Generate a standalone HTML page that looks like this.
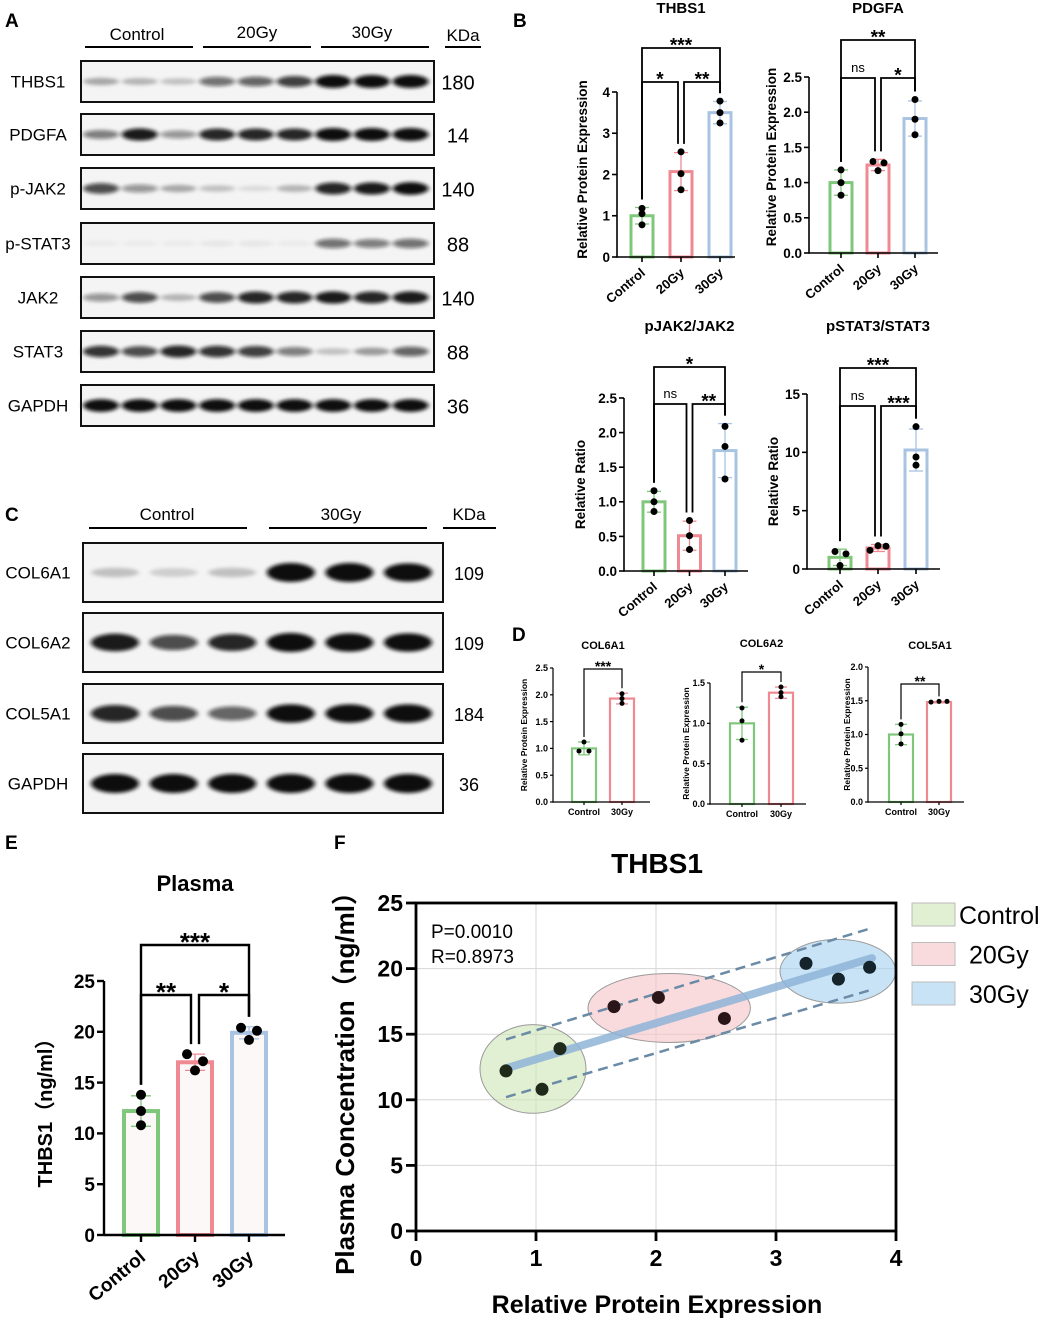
<!DOCTYPE html>
<html><head><meta charset="utf-8">
<style>
html,body{margin:0;padding:0;background:#fff;}
svg{display:block;font-family:"Liberation Sans",Arial,sans-serif;}
</style></head>
<body>
<svg id="fig" width="1045" height="1320" viewBox="0 0 1045 1320" xmlns="http://www.w3.org/2000/svg">
<defs>
<filter id="blur" x="-30%" y="-100%" width="160%" height="300%"><feGaussianBlur stdDeviation="2.5 1.8"/></filter>
</defs>
<g id="root"></g>
</svg>
<script>
// ---------- DATA ----------
const groups3 = ["Control","20Gy","30Gy"];
const groups2 = ["Control","30Gy"];
const thbs1Means = [1.0,2.07,3.5];
const thbs1Pts = [[1.18,1.05,0.78],[2.55,2.02,1.63],[3.78,3.5,3.25]];
const thbs1Sd = [0.2,0.46,0.27];
const pdgfaMeans = [1.0,1.25,1.91];
const pdgfaPts = [[1.18,1.0,0.82],[1.3,1.28,1.17],[2.18,1.9,1.68]];
const pdgfaSd = [0.18,0.08,0.25];
const pjakMeans = [1.0,0.51,1.74];
const pjakPts = [[1.16,1.0,0.86],[0.73,0.51,0.31],[2.09,1.8,1.33]];
const pjakSd = [0.15,0.21,0.39];
const pstatMeans = [1.0,1.8,10.2];
const pstatPts = [[1.5,1.3,0.3],[1.6,2.0,1.95],[12.2,9.6,8.9]];
const pstatSd = [0.7,0.3,1.8];
const col6a1Means = [1.0,1.93];
const col6a1Pts = [[1.12,0.95,0.95],[2.02,1.93,1.84]];
const col6a1Sd = [0.12,0.1];
const col6a2Means = [1.0,1.38];
const col6a2Pts = [[1.19,1.03,0.79],[1.45,1.38,1.33]];
const col6a2Sd = [0.2,0.07];
const col5a1Means = [1.0,1.48];
const col5a1Pts = [[1.15,1.01,0.86],[1.48,1.49,1.49]];
const col5a1Sd = [0.15,0.01];
const plasmaMeans = [12.2,17.0,19.9];
const plasmaPts = [[13.8,12.2,10.8],[17.8,17.1,16.2],[20.4,19.2,20.1]];
const plasmaSd = [1.5,0.8,0.6];
const ticks4 = [0,1,2,3,4];
const ticks25 = [0,0.5,1.0,1.5,2.0,2.5];
const ticks15 = [0,5,10,15];
const ticks1p5 = [0,0.5,1.0,1.5];
const ticks2 = [0,0.5,1.0,1.5,2.0];
const ticksPlasma = [0,5,10,15,20,25];
// scatter F
const scatterX = [0.75,1.05,1.2,1.65,2.02,2.57,3.25,3.52,3.78];
const scatterY = [12.2,10.8,13.9,17.1,17.8,16.2,20.4,19.2,20.1];
const scatterGroup = [0,0,0,1,1,1,2,2,2];
const fitEnds = [0.75,3.8];
const fitY = [12.4,20.8];
const ciUpperY = [14.6,23.1];
const ciLowerY = [10.2,18.4];
const fXTicks = [0,1,2,3,4];
const fYTicks = [0,5,10,15,20,25];
const fLegend = ["Control","20Gy","30Gy"];
// blots
const blotARows = ["THBS1","PDGFA","p-JAK2","p-STAT3","JAK2","STAT3","GAPDH"];
const blotAKda = ["180","14","140","88","140","88","36"];
const blotAInt = [
 [0.3,0.25,0.2,0.55,0.6,0.75,1,1,1],
 [0.5,0.9,0.4,0.85,0.85,0.85,1,1,1],
 [0.7,0.4,0.3,0.2,0.1,0.25,0.85,0.9,0.95],
 [0.04,0.04,0.04,0.06,0.06,0.04,0.55,0.5,0.55],
 [0.4,0.7,0.25,0.7,0.85,0.85,0.9,0.85,0.9],
 [0.8,0.7,0.85,0.8,0.75,0.5,0.2,0.35,0.6],
 [0.95,0.95,0.95,0.95,0.95,0.95,0.95,0.95,0.95]];
const blotCRows = ["COL6A1","COL6A2","COL5A1","GAPDH"];
const blotCKda = ["109","109","184","36"];
const blotCInt = [
 [0.2,0.15,0.2,1,1,0.95],
 [0.9,0.7,0.85,1,0.95,0.95],
 [0.85,0.7,0.6,0.95,0.95,0.95],
 [1,1,1,1,1,1]];

// ---------- HELPERS ----------
const NS="http://www.w3.org/2000/svg";
const root=document.getElementById('root');
function el(tag,attrs,parent,text){const e=document.createElementNS(NS,tag);for(const k in attrs)e.setAttribute(k,attrs[k]);if(text!==undefined)e.textContent=text;(parent||root).appendChild(e);return e;}
function txt(x,y,s,size,opts,parent){opts=opts||{};const t=el('text',{x:x,y:y,'font-size':size,'font-weight':opts.bold?'bold':'normal','text-anchor':opts.anchor||'middle',fill:opts.fill||'#000'},parent,s);if(opts.rot!==undefined)t.setAttribute('transform','rotate('+opts.rot+' '+x+' '+y+')');if(opts.family)t.setAttribute('font-family',opts.family);return t;}
const COLORS=["#7fc77a","#ef8a93","#a9c4e2"];

function barChart(c){
  const g=el('g',{});
  
  
  const ys=v=>c.y0-(v/c.vmax)*(c.y0-c.y1);
  const xs=i=>c.cx0+i*c.step;
  c.means.forEach((m,i)=>{
    const r=el('rect',{x:xs(i)-c.bw/2,y:ys(m),width:c.bw,height:c.y0-ys(m),fill:c.fill||'#fff',stroke:COLORS[i],'stroke-width':c.sw},g);
    
    
    const sd=c.sds[i];
    el('line',{x1:xs(i),x2:xs(i),y1:ys(m+sd),y2:ys(Math.max(0,m-sd)),stroke:COLORS[i],'stroke-width':1.3},g);
    [m+sd,Math.max(0,m-sd)].forEach(v=>el('line',{x1:xs(i)-c.cap,x2:xs(i)+c.cap,y1:ys(v),y2:ys(v),stroke:COLORS[i],'stroke-width':1.3},g));
    c.pts[i].forEach((p,j)=>{
      const d=el('circle',{cx:xs(i)+(c.jit?c.jit[i][j]:0),cy:ys(p),r:c.pr,fill:'#000'},g);
      
      
    });
  });
  el('line',{x1:c.x0,x2:c.x0,y1:c.y1,y2:c.y0+0.8,stroke:'#000','stroke-width':c.aw},g);
  el('line',{x1:c.x0,x2:c.xEnd,y1:c.y0,y2:c.y0,stroke:'#000','stroke-width':c.aw},g);
  c.ticks.forEach(t=>{
    el('line',{x1:c.x0-c.tl,x2:c.x0,y1:ys(t),y2:ys(t),stroke:'#000','stroke-width':c.aw},g);
    txt(c.x0-c.tl-2,ys(t)+c.tfs*0.36,c.fmt(t),c.tfs,{bold:true,anchor:'end'},g);
  });
  c.cats.forEach((s,i)=>{
    el('line',{x1:xs(i),x2:xs(i),y1:c.y0,y2:c.y0+c.tl,stroke:'#000','stroke-width':c.aw},g);
    if(c.rot) txt(xs(i)+c.tfs*0.3,c.y0+c.tl+c.tfs*0.9,s,c.xfs,{bold:true,anchor:'end',rot:-40},g);
    else txt(xs(i),c.y0+c.tl+c.xfs+1,s,c.xfs,{bold:true},g);
  });
  const yl=txt(c.ylx,(c.y0+c.y1)/2+c.yloff,c.ylabel,c.yfs,{bold:true,rot:-90},g);
  
  const tt=txt((xs(0)+xs(c.cats.length-1))/2+c.titleDx,c.titleY,c.title,c.titleFs,{bold:true},g);
  
  c.brackets.forEach(b=>{
    const [i,j,by,lab,oi,oj]=b;
    const xa=xs(i)+(oi||0), xb=xs(j)+(oj||0);
    const topI=ys(Math.max(...c.pts[i],c.means[i]+c.sds[i]))-c.gap;
    const topJ=ys(Math.max(...c.pts[j],c.means[j]+c.sds[j]))-c.gap;
    el('path',{d:`M${xa},${Math.max(topI,by+6)} V${by} H${xb} V${Math.max(topJ,by+6)}`,fill:'none',stroke:'#000','stroke-width':c.bkw},g);
    const isNs=lab==='ns';
    txt((xa+xb)/2,isNs?by-6:by-3+c.sfs*0.35,lab,isNs?c.nsfs:c.sfs,{bold:!isNs},g);
  });
}

// ---------- PANEL B ----------
barChart({name:'thbs1-bar-chart',cats:groups3,means:thbs1Means,pts:thbs1Pts,sds:thbs1Sd,x0:617,xEnd:735,y0:257,y1:92,vmax:4,cx0:642,step:39,bw:22,sw:3,cap:7,pr:3.5,aw:1.6,tl:5,tfs:13.5,xfs:13,fmt:t=>String(t),ticks:ticks4,rot:true,ylabel:'Relative Protein Expression',ylx:587,yloff:-5,yfs:13.5,title:'THBS1',titleY:13,titleFs:15,titleDx:0,gap:8,bkw:1.8,sfs:19,nsfs:13,
 jit:[[0,0,0],[0,0,0],[0,0,0]],
 brackets:[[0,2,48,'***'],[0,1,82,'*',0,-3],[1,2,82,'**',3,0]]});
barChart({name:'pdgfa-bar-chart',cats:groups3,means:pdgfaMeans,pts:pdgfaPts,sds:pdgfaSd,x0:809,xEnd:938,y0:253,y1:77,vmax:2.5,cx0:841,step:37,bw:22,sw:3,cap:7,pr:3.5,aw:1.6,tl:5,tfs:13.5,xfs:13,fmt:t=>t.toFixed(1),ticks:ticks25,rot:true,ylabel:'Relative Protein Expression',ylx:776,yloff:-8,yfs:13.5,title:'PDGFA',titleY:13,titleFs:15,titleDx:0,gap:8,bkw:1.8,sfs:19,nsfs:13,
 jit:[[0,0,0],[-5,6,0],[0,0,0]],
 brackets:[[0,2,40,'**'],[0,1,78,'ns',0,-3],[1,2,78,'*',3,0]]});
barChart({name:'pjak2-jak2-bar-chart',cats:groups3,means:pjakMeans,pts:pjakPts,sds:pjakSd,x0:624,xEnd:748,y0:571,y1:398,vmax:2.5,cx0:654,step:35.5,bw:22,sw:3,cap:7,pr:3.5,aw:1.6,tl:5,tfs:13.5,xfs:13,fmt:t=>t.toFixed(1),ticks:ticks25,rot:true,ylabel:'Relative Ratio',ylx:585,yloff:0,yfs:13.5,title:'pJAK2/JAK2',titleY:331,titleFs:15,titleDx:0,gap:8,bkw:1.8,sfs:19,nsfs:13,
 jit:[[0,0,0],[0,0,0],[0,0,0]],
 brackets:[[0,2,367,'*'],[0,1,404,'ns',0,-3],[1,2,404,'**',3,0]]});
barChart({name:'pstat3-stat3-bar-chart',cats:groups3,means:pstatMeans,pts:pstatPts,sds:pstatSd,x0:807,xEnd:940,y0:569,y1:394,vmax:15,cx0:840,step:38,bw:22,sw:3,cap:7,pr:3.5,aw:1.6,tl:5,tfs:13.5,xfs:13,fmt:t=>String(t),ticks:ticks15,rot:true,ylabel:'Relative Ratio',ylx:778,yloff:0,yfs:13.5,title:'pSTAT3/STAT3',titleY:331,titleFs:15,titleDx:0,gap:8,bkw:1.8,sfs:19,nsfs:13,
 jit:[[-5,6,0],[-8,0,8],[0,0,0]],
 brackets:[[0,2,368,'***'],[0,1,406,'ns',0,-3],[1,2,406,'***',3,0]]});

// ---------- PANEL D ----------
barChart({name:'col6a1-bar-chart',cats:groups2,means:col6a1Means,pts:col6a1Pts,sds:col6a1Sd,x0:553,xEnd:650,y0:802,y1:668,vmax:2.5,cx0:584,step:38,bw:24,sw:2.2,cap:6,pr:2.5,aw:1.2,tl:3,tfs:9,xfs:9,fmt:t=>t.toFixed(1),ticks:ticks25,rot:false,ylabel:'Relative Protein Expression',ylx:527,yloff:0,yfs:8.5,title:'COL6A1',titleY:649,titleFs:11,titleDx:0,gap:5,bkw:1.2,sfs:14,nsfs:10,
 jit:[[0,-5,5],[0,0,0]],
 brackets:[[0,1,669,'***']]});
barChart({name:'col6a2-bar-chart',cats:groups2,means:col6a2Means,pts:col6a2Pts,sds:col6a2Sd,x0:710,xEnd:806,y0:804,y1:683,vmax:1.5,cx0:742,step:39,bw:24,sw:2.2,cap:6,pr:2.5,aw:1.2,tl:3,tfs:9,xfs:9,fmt:t=>t.toFixed(1),ticks:ticks1p5,rot:false,ylabel:'Relative Protein Expression',ylx:689,yloff:0,yfs:8.5,title:'COL6A2',titleY:647,titleFs:11,titleDx:0,gap:5,bkw:1.2,sfs:14,nsfs:10,
 jit:[[0,0,0],[0,0,0]],
 brackets:[[0,1,672,'*']]});
barChart({name:'col5a1-bar-chart',cats:groups2,means:col5a1Means,pts:col5a1Pts,sds:col5a1Sd,x0:868,xEnd:964,y0:802,y1:667,vmax:2,cx0:901,step:38,bw:24,sw:2.2,cap:6,pr:2.5,aw:1.2,tl:3,tfs:9,xfs:9,fmt:t=>t.toFixed(1),ticks:ticks2,rot:false,ylabel:'Relative Protein Expression',ylx:850,yloff:0,yfs:8.5,title:'COL5A1',titleY:649,titleFs:11,titleDx:10,gap:5,bkw:1.2,sfs:14,nsfs:10,
 jit:[[0,0,0],[-8,0,8]],
 brackets:[[0,1,684,'**']]});

// ---------- PANEL E ----------
barChart({name:'plasma-bar-chart',cats:groups3,means:plasmaMeans,pts:plasmaPts,sds:plasmaSd,x0:104,xEnd:285,y0:1235,y1:981,vmax:25,cx0:141,step:54,bw:34,sw:4,cap:10,pr:5,aw:2.4,tl:7,tfs:19,xfs:19,fmt:t=>String(t),ticks:ticksPlasma,rot:true,ylabel:'THBS1（ng/ml）',ylx:52,yloff:0,yfs:20,title:'Plasma',titleY:891,titleFs:22,titleDx:0,gap:10,bkw:2.4,sfs:26,nsfs:18,fill:'#fdf8f8',
 jit:[[0,0,0],[-8,8,0],[-8,0,8]],
 brackets:[[0,2,945,'***'],[0,1,995,'**',0,-4],[1,2,995,'*',4,0]]});

// ---------- PANEL F ----------
(function(){
  const g=el('g',{});
  
  
  const X0=416,X1=896,Y0=1231,Y1=903;
  const xs=v=>X0+v/4*(X1-X0), ys=v=>Y0-v/25*(Y0-Y1);
  fXTicks.forEach(t=>{ if(t>0&&t<4) el('line',{x1:xs(t),x2:xs(t),y1:Y1,y2:Y0,stroke:'#d6d6d6','stroke-width':1},g);});
  fYTicks.forEach(t=>{ if(t>0&&t<25) el('line',{x1:X0,x2:X1,y1:ys(t),y2:ys(t),stroke:'#d6d6d6','stroke-width':1},g);});
  const fills=['rgba(205,228,180,0.6)','rgba(245,195,198,0.6)','rgba(165,208,240,0.6)'];
  [0,1,2].forEach(k=>{
    const px=[],py=[];
    scatterGroup.forEach((gg,i)=>{if(gg===k){px.push(xs(scatterX[i]));py.push(ys(scatterY[i]));}});
    const minx=Math.min(...px),maxx=Math.max(...px),miny=Math.min(...py),maxy=Math.max(...py);
    const e=el('ellipse',{cx:(minx+maxx)/2,cy:(miny+maxy)/2,rx:(maxx-minx)/2+26,ry:(maxy-miny)/2+24,fill:fills[k],stroke:'#9a9a9a','stroke-width':1},g);
    
    
  });
  const fit=el('line',{x1:xs(fitEnds[0]),y1:ys(fitY[0]),x2:xs(fitEnds[1]),y2:ys(fitY[1]),stroke:'#8fb5d8','stroke-width':8,'stroke-linecap':'round',opacity:0.85},g);
  
  [ciUpperY,ciLowerY].forEach(arr=>{
    const l=el('line',{x1:xs(fitEnds[0]),y1:ys(arr[0]),x2:xs(fitEnds[1]),y2:ys(arr[1]),stroke:'#6a8aa6','stroke-width':2.5,'stroke-dasharray':'10,6'},g);
    
  });
  scatterX.forEach((x,i)=>{
    const c=el('circle',{cx:xs(x),cy:ys(scatterY[i]),r:6.5,fill:['#1f2a1a','#2a1618','#14242a'][scatterGroup[i]]},g);
    
  });
  el('rect',{x:X0,y:Y1,width:X1-X0,height:Y0-Y1,fill:'none',stroke:'#000','stroke-width':2.8},g);
  fXTicks.forEach(t=>{el('line',{x1:xs(t),x2:xs(t),y1:Y0,y2:Y0+10,stroke:'#000','stroke-width':2.8},g);txt(xs(t),Y0+35,String(t),23,{bold:true},g);});
  fYTicks.forEach(t=>{el('line',{x1:X0-10,x2:X0,y1:ys(t),y2:ys(t),stroke:'#000','stroke-width':2.8},g);txt(X0-13,ys(t)+8,String(t),23,{bold:true,anchor:'end'},g);});
  txt(657,873,'THBS1',28,{bold:true},g);
  txt(657,1313,'Relative Protein Expression',25,{bold:true},g);
  txt(354,1077,'Plasma Concentration（ng/ml）',26,{bold:true,rot:-90,family:'"Liberation Sans","Noto Sans CJK SC",sans-serif'},g);
  txt(431,938,'P=0.0010',19,{anchor:'start'},g);
  txt(431,963,'R=0.8973',19,{anchor:'start'},g);
  fLegend.forEach((s,k)=>{
    const r=el('rect',{x:912,y:903+k*39.5,width:43,height:23,fill:fills[k],stroke:'#bbb','stroke-width':1},g);
    
    const t=txt(k===0?959:969,924+k*39.5,s,25,{anchor:'start'},g);
    
  });
})();

// ---------- BLOTS ----------
function blot(name,rows,kda,ints,boxX0,boxX1,boxYs,boxH,lane0,laneStep,bandW,kdaX,labelX,fs,kfs,bandK){
  const g=el('g',{});
  
  
  rows.forEach((r,ri)=>{
    const y=boxYs[ri];
    el('rect',{x:boxX0,y:y,width:boxX1-boxX0,height:boxH,fill:'#f4f4f4'},g);
    const bg=el('g',{filter:'url(#blur)'},g);
    ints[ri].forEach((v,li)=>{
      const ry=boxH*(0.06+bandK*v);
      el('ellipse',{cx:lane0+li*laneStep,cy:y+boxH*0.5,rx:bandW,ry:ry,fill:'#111','fill-opacity':Math.min(1,v*1.05)},bg);
    });
    el('rect',{x:boxX0,y:y,width:boxX1-boxX0,height:boxH,fill:'none',stroke:'#111','stroke-width':2},g);
    txt(labelX,y+boxH/2+fs*0.36,r,fs,{},g);
    txt(kdaX,y+boxH/2+kfs*0.36+1,kda[ri],kfs,{},g);
  });
}
blot('western-blot-a',blotARows,blotAKda,blotAInt,81,434,[61,114,168,223,277,331,385],41,101,38.7,18,458,38,17,20,0.1);
blot('western-blot-c',blotCRows,blotCKda,blotCInt,83,443,[543,613,684,754],59,115,58.6,24,469,38,17,18,0.1);
// headers
txt(137,40,'Control',17);txt(257,38,'20Gy',17);txt(372,38,'30Gy',17);txt(463,41,'KDa',17);
[[85,193],[203,311],[321,429],[445,481]].forEach(a=>el('line',{x1:a[0],x2:a[1],y1:47,y2:47,stroke:'#000','stroke-width':2}));
txt(167,520,'Control',17);txt(341,520,'30Gy',17);txt(469,520,'KDa',17);
[[89,247],[269,427],[443,496]].forEach(a=>el('line',{x1:a[0],x2:a[1],y1:528,y2:528,stroke:'#000','stroke-width':2}));
[['A',5,27],['B',513,27],['C',5,521],['D',512,641],['E',5,849],['F',334,849]].forEach(p=>{
  const t=txt(p[1],p[2],p[0],19,{bold:true,anchor:'start'});
  
  
});
</script>
</body></html>
